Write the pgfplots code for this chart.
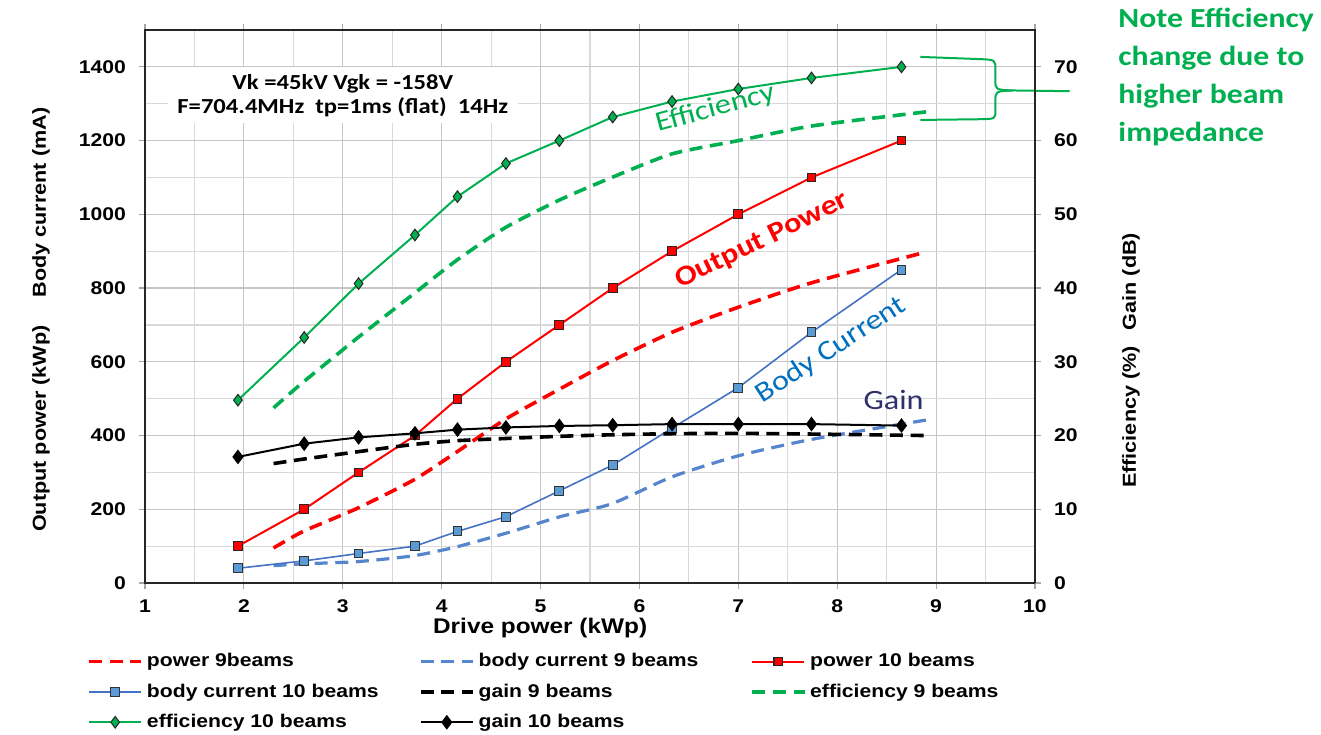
\documentclass[border=0pt]{standalone}
\usepackage{fontspec}
\setmainfont{Liberation Sans}[FakeStretch=1.15]
\newfontfamily\calib{Carlito}[FakeStretch=1.15]
\usepackage{pgfplots}
\pgfplotsset{compat=1.18}

\definecolor{pw}{HTML}{FF0000}
\definecolor{bc}{HTML}{4472C4}
\definecolor{bcfill}{HTML}{5B9BD5}
\definecolor{bcd}{HTML}{5585CC}
\definecolor{ef}{HTML}{00B050}
\definecolor{bctext}{HTML}{0070C0}
\definecolor{gaintext}{HTML}{30306A}

\pgfplotsset{
  frame/.style={
    width=445pt, height=276.5pt, scale only axis,
    xmin=1, xmax=10,
    /pgf/number format/assume math mode=true,
    /pgf/number format/set thousands separator={},
    tick label style={font=\bfseries\fontsize{9.2}{10}\selectfont},
    tick align=outside, major tick length=3pt, minor tick length=0pt,
    tick style={gray!70, line width=0.6pt},
  },
  dsh/.style={line width=1.8pt, dash pattern=on 6.5pt off 3.8pt, smooth, tension=0.4},
  p9/.style={pw, dsh},
  b9/.style={bcd, dsh, line width=1.6pt},
  g9/.style={black, dsh},
  e9/.style={ef, dsh},
  p10/.style={pw, line width=1pt, mark=square*, mark size=2.2pt,
    mark options={solid, fill=pw, draw=black!85, line width=0.5pt}},
  b10/.style={bc, line width=0.8pt, mark=square*, mark size=2.2pt,
    mark options={solid, fill=bcfill, draw=black!80, line width=0.5pt}},
  e10/.style={ef, line width=1pt, mark=diamond*, mark size=2.9pt,
    mark options={solid, fill=ef, draw=black!85, line width=0.5pt}},
  g10/.style={black, line width=1pt, mark=diamond*, mark size=2.9pt,
    mark options={solid, fill=black}},
}

\begin{document}
\begin{tikzpicture}
% left axis: output power and body current
\begin{axis}[
  frame,
  ymin=0, ymax=1500,
  xtick={1,...,10}, minor x tick num=1,
  ytick={0,200,...,1400}, minor y tick num=1,
  grid=both,
  major grid style={gray!45, line width=0.6pt},
  minor grid style={gray!30, line width=0.6pt},
  axis line style={black!85, line width=1.1pt},
  xticklabel style={yshift=-2pt},
  yticklabel style={xshift=-3pt},
  xlabel={Drive power (kWp)},
  xlabel style={at={(rel axis cs:0.444,0)}, anchor=north, yshift=-14pt,
    font=\bfseries\fontsize{10.6}{12}\selectfont},
  ylabel={Output power (kWp)\hspace{14pt}Body current (mA)},
  ylabel style={at={(rel axis cs:0,0.476)}, anchor=center, yshift=52pt,
    font=\bfseries\fontsize{9.4}{11}\selectfont},
  clip=false,
]
\addplot[p9] coordinates {(2.3,95) (2.6,140) (3.15,203) (3.72,280) (4.15,355) (4.65,445)
  (5.2,527) (5.72,602) (6.33,680) (7.0,748) (7.75,815) (8.9,898)};
\addplot[b9] coordinates {(2.3,47) (2.6,52) (3.15,58) (3.72,74) (4.15,98) (4.65,135)
  (5.2,180) (5.72,215) (6.33,288) (7.0,345) (7.75,390) (8.9,442)};
\addplot[p10] coordinates {(1.94,100) (2.61,200) (3.16,300) (3.73,400) (4.16,500) (4.65,600)
  (5.19,700) (5.73,800) (6.33,900) (7.0,1000) (7.74,1100) (8.65,1200)};
\addplot[b10] coordinates {(1.94,40) (2.61,60) (3.16,80) (3.73,100) (4.16,140) (4.65,180)
  (5.19,250) (5.73,320) (6.33,420) (7.0,530) (7.74,680) (8.65,850)};

% operating conditions
\node[fill=white, inner sep=0pt, minimum width=175pt, minimum height=28pt,
  align=center, font=\calib\bfseries\fontsize{10.7}{12}\selectfont]
  at (axis cs:3.0,1323) {Vk =45kV Vgk = -158V\\F=704.4MHz\ \ tp=1ms (flat)\ \ 14Hz};

% curve annotations
\node[ef, rotate=15, font=\calib\fontsize{14}{16}\selectfont] at (axis cs:6.77,1286) {Efficiency};
\node[pw, rotate=26, font=\calib\bfseries\fontsize{14}{16}\selectfont] at (axis cs:7.24,928) {Output Power};
\node[bctext, rotate=33, font=\calib\fontsize{14}{16}\selectfont] at (axis cs:7.94,632) {Body Current};
\node[gaintext, font=\calib\fontsize{14}{16}\selectfont] at (axis cs:8.57,496) {Gain};

% brace and note on the efficiency shift
\draw[ef, line width=1pt]
  (axis cs:8.84,1427) -- (axis cs:9.45,1421)
  .. controls (axis cs:9.6,1419) .. (axis cs:9.6,1392)
  -- (axis cs:9.6,1362)
  .. controls (axis cs:9.6,1338) .. (axis cs:9.78,1336)
  -- (axis cs:10.35,1334);
\draw[ef, line width=1pt]
  (axis cs:9.78,1336)
  .. controls (axis cs:9.6,1334) .. (axis cs:9.6,1308)
  -- (axis cs:9.6,1282)
  .. controls (axis cs:9.6,1259) .. (axis cs:9.45,1258)
  -- (axis cs:8.84,1256);
\node[ef, anchor=north west, align=left, inner sep=0pt,
  font=\calib\bfseries\fontsize{13.8}{19}\selectfont]
  at (axis cs:10.84,1560) {Note Efficiency\\change due to\\higher beam\\impedance};
\end{axis}

% right axis: efficiency and gain
\begin{axis}[
  frame,
  ymin=0, ymax=75,
  axis y line*=right, axis x line=none,
  ytick={0,10,...,70},
  axis line style={black!85, line width=1.1pt},
  yticklabel style={xshift=3pt},
  clip=false,
  legend columns=3,
  legend cell align=left,
  legend style={at={(rel axis cs:0,0)}, anchor=north west, xshift=-32pt, yshift=-31pt,
    draw=none, fill=none, row sep=3pt,
    font=\bfseries\fontsize{9.2}{10}\selectfont},
  legend image code/.code={\draw[mark repeat=2, mark phase=2, #1]
    plot coordinates {(0pt,0pt) (13pt,0pt) (26pt,0pt)};},
]
\addlegendimage{p9, smooth=false}
\addlegendentry{\makebox[134pt][l]{power 9beams}}
\addlegendimage{b9, smooth=false}
\addlegendentry{\makebox[134pt][l]{body current 9 beams}}
\addlegendimage{p10}
\addlegendentry{\makebox[134pt][l]{power 10 beams}}
\addlegendimage{b10}
\addlegendentry{\makebox[134pt][l]{body current 10 beams}}

\addplot[g9] coordinates {(2.3,16.2) (2.6,16.8) (3.15,17.8) (3.72,18.8) (4.15,19.3) (4.65,19.6)
  (5.2,19.9) (5.72,20.1) (6.33,20.25) (7.0,20.3) (7.75,20.2) (8.9,20.0)};
\addlegendentry{\makebox[134pt][l]{gain 9 beams}}
\addplot[e9] coordinates {(2.3,23.75) (2.6,27.25) (3.15,33.25) (3.72,39.25) (4.15,43.75) (4.65,48.25)
  (5.2,52.0) (5.72,55.0) (6.33,58.2) (7.0,60.0) (7.75,62.0) (8.9,63.9)};
\addlegendentry{\makebox[134pt][l]{efficiency 9 beams}}
\addplot[e10] coordinates {(1.94,24.8) (2.61,33.3) (3.16,40.6) (3.73,47.2) (4.16,52.4) (4.65,56.9)
  (5.19,60.0) (5.73,63.2) (6.33,65.3) (7.0,67.0) (7.74,68.5) (8.65,70.0)};
\addlegendentry{\makebox[134pt][l]{efficiency 10 beams}}
\addplot[g10] coordinates {(1.94,17.1) (2.61,18.9) (3.16,19.75) (3.73,20.3) (4.16,20.8) (4.65,21.1)
  (5.19,21.3) (5.73,21.4) (6.33,21.55) (7.0,21.55) (7.74,21.55) (8.65,21.35)};
\addlegendentry{\makebox[134pt][l]{gain 10 beams}}

\node[rotate=90, font=\bfseries\fontsize{9.4}{11}\selectfont]
  at (axis cs:10.97,30.2) {Efficiency (\%)\hspace{8pt}Gain (dB)};
\end{axis}

\pgfresetboundingbox
\path[use as bounding box] (-72.5pt,-75.5pt) rectangle (588pt,291.5pt);
\end{tikzpicture}
\end{document}
